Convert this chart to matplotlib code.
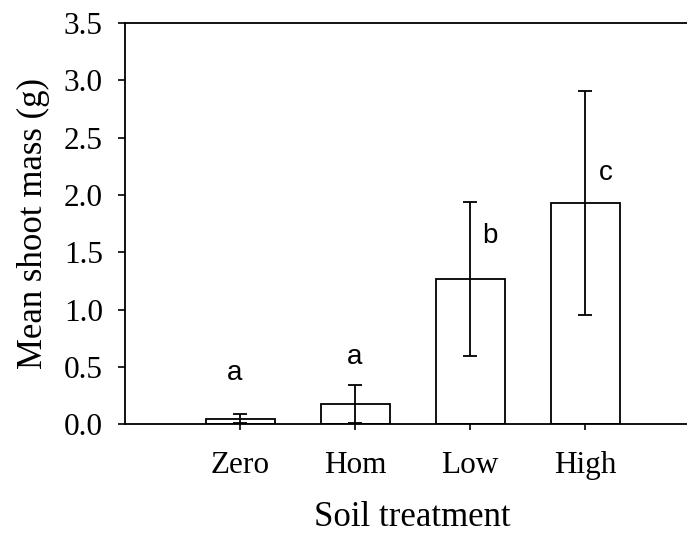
import numpy as np
import matplotlib
matplotlib.use('Agg')
import matplotlib.pyplot as plt

# values
treatments = ['Zero', 'Hom', 'Low', 'High']
mean_mass = [0.05, 0.18, 1.27, 1.93]
err_mass = [0.04, 0.165, 0.67, 0.975]
letters = ['a', 'a', 'b', 'c']
letter_x = [0.95, 2.0, 3.17, 4.18]
letter_y = [0.45, 0.59, 1.64, 2.19]

fig = plt.figure(figsize=(6.87, 5.34), dpi=100)
ax = fig.add_axes([0.182, 0.2054, 0.837, 0.7515])

x = np.arange(1, len(treatments) + 1)
ax.bar(x, mean_mass, width=0.6, color='white', edgecolor='black', linewidth=1.3, zorder=2)
ax.errorbar(x, mean_mass, yerr=err_mass, fmt='none', ecolor='black',
            elinewidth=1.3, capsize=5, capthick=1.3, zorder=3)

for lx, ly, t in zip(letter_x, letter_y, letters):
    ax.text(lx, ly, t, ha='center', va='center', fontsize=20, family='Liberation Sans')

ax.set_xlim(0, 5)
ax.set_ylim(0, 3.5)
ax.set_xticks(x)
ax.set_xticklabels(treatments)
ax.set_yticks(np.arange(0, 3.51, 0.5))
ax.set_yticklabels(['%.1f' % v for v in np.arange(0, 3.51, 0.5)])

for s in ['left', 'bottom', 'top']:
    ax.spines[s].set_linewidth(1.3)
ax.spines['right'].set_visible(False)

ax.tick_params(axis='y', direction='out', length=5, width=1.2, pad=11, labelsize=22.5)
ax.tick_params(axis='x', direction='out', length=4, width=1.2, pad=15, labelsize=22.5)
for lab in ax.get_xticklabels() + ax.get_yticklabels():
    lab.set_family('Liberation Serif')

ax.set_ylabel('Mean shoot mass (g)', fontsize=25, family='Liberation Serif', labelpad=10)
ax.set_xlabel('Soil treatment', fontsize=25, family='Liberation Serif', labelpad=15)

fig.savefig('out.png', dpi=100)
